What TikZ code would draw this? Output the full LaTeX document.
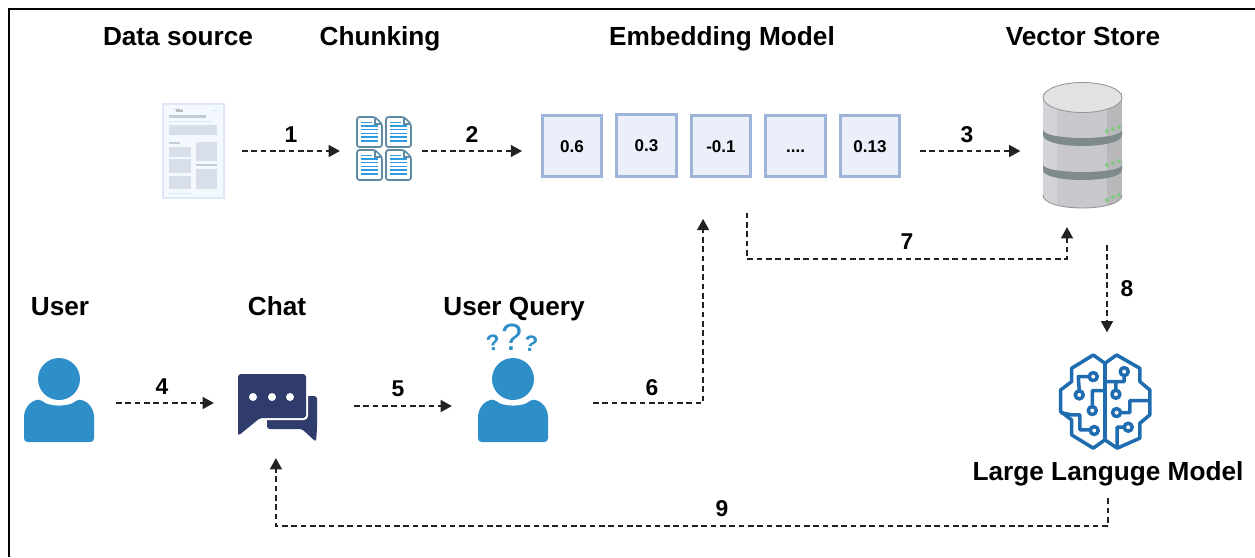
\documentclass[tikz,border=0pt]{standalone}
\usepackage{fontspec}
\setmainfont{Liberation Sans}
\usetikzlibrary{arrows.meta}
\definecolor{flowc}{HTML}{222222}
\definecolor{vecfill}{HTML}{EBEFF9}
\definecolor{vecline}{HTML}{9DB4D8}
\definecolor{personc}{HTML}{2E8FC8}
\definecolor{chatc}{HTML}{303C6C}
\definecolor{brainc}{HTML}{1F6DB0}
\definecolor{pagefill}{HTML}{F3F8FE}
\definecolor{pageline}{HTML}{DCE8F8}
\definecolor{pageblock}{HTML}{D9DFEA}
\definecolor{pagebar}{HTML}{C3CCD9}
\definecolor{sheetline}{HTML}{5F8AA6}
\definecolor{sheettext}{HTML}{2F9BE0}
\definecolor{drumc}{HTML}{C8C8CC}
\definecolor{drumlight}{HTML}{D3D3D7}
\definecolor{drumdark}{HTML}{B8B8BA}
\definecolor{drumband}{HTML}{7F8A8C}
\definecolor{drumtop}{HTML}{E2E2E2}
\definecolor{ledc}{HTML}{84C884}
\tikzset{
	head/.style={font=\fontsize{7.45}{9}\selectfont\bfseries,text height=5.6pt,text depth=.8pt,inner sep=0pt,outer sep=0pt},
	stepnum/.style={font=\fontsize{6.5}{8}\selectfont\bfseries,inner sep=0pt},
	askmark/.style={text=personc,inner sep=0pt,font=\fontsize{6.4}{8}\selectfont\bfseries},
	vecbox/.style={draw=vecline,fill=vecfill,line width=.85pt,minimum width=17pt,minimum height=17.5pt,inner sep=0pt,outer sep=0pt,
		font=\fontsize{4.85}{6}\selectfont\bfseries,text height=3.5pt,text depth=0pt},
	iconbox/.style 2 args={minimum width=#1*.2845pt,minimum height=#2*.2845pt,inner sep=0pt,outer sep=0pt},
	flow/.style={draw=flowc,line width=.65pt,dash pattern=on 1.6pt off 1.05pt,-{Triangle[length=3.2pt,width=3.3pt,flowc]}},
	gap/.style 2 args={shorten <=#1*.2845pt,shorten >=#2*.2845pt},
	personicon/.pic={
		\fill[personc,rounded corners=1pt] (-35,63)--(-35,42) .. controls (-35,30) and (-30,23) .. (-19,20) .. controls (-10,28) and (10,28) .. (19,20) .. controls (30,23) and (35,30) .. (35,42)--(35,63)--cycle;
		\fill[personc] (0,0) circle (21);
	},
	sheeticon/.pic={
		\draw[sheetline,line width=.5pt,fill=white,rounded corners=.7pt] (0,0)--(18,0)--(25,7)--(25,30)--(0,30)--cycle;
		\draw[sheetline,line width=.3pt] (18,0)--(18,7)--(25,7);
		\draw[sheettext,line width=.35pt] (3.5,5.5)--(15,5.5);
		\foreach \ly in {9,12.5,16.5,20,24}{\draw[sheettext,line width=.35pt] (3.5,\ly)--(21,\ly);}
	},
	drumpart/.pic={
		\begin{scope}
			\clip (1043,\yt) -- (1043,\yb) .. controls (1043,{\yb+1.33*\ry}) and (1122,{\yb+1.33*\ry}) .. (1122,\yb) -- (1122,\yt) -- cycle;
			\fill[drumc] (1043,\yt) rectangle (1122,{\yb+\ry});
			\fill[drumlight] (1043,\yt) rectangle (1057,{\yb+\ry});
			\fill[drumdark] (1107,\yt) rectangle (1122,{\yb+\ry});
		\end{scope}
	}
}
\begin{document}
\begin{tikzpicture}[x=0.01cm,y=-0.01cm]
	\useasboundingbox (0,0) rectangle (1255,557);
	\draw[line width=.6pt] (1255,9)--(9,9)--(9,557);
	% titles
	\node[head] (tsource) at (178,37) {Data source};
	\node[head] (tchunk) at (380,37) {Chunking};
	\node[head] (tembed) at (722,37) {Embedding Model};
	\node[head] (tstore) at (1083,37) {Vector Store};
	\node[head] (tuser) at (60,307) {User};
	\node[head] (tchat) at (277,307) {Chat};
	\node[head] (tquery) at (514,307) {User Query};
	\node[head] (tllm) at (1108,472) {Large Languge Model};
	% icon places
	\node[iconbox={61}{94}] (srcdoc) at (193.5,151) {};
	\node[iconbox={54}{62}] (chunks) at (384,151) {};
	\node[iconbox={79}{114}] (store) at (1083,151) {};
	\node[iconbox={70}{85}] (usericon) at (59,403) {};
	\node[iconbox={79}{68}] (chat) at (277.5,406) {};
	\node[iconbox={70}{85}] (queryicon) at (513,403) {};
	\node[iconbox={97}{97}] (llm) at (1107,401) {};
	% embedding values
	\node[vecbox] (emb1) at (572,146) {0.6};
	\node[vecbox] (emb2) at (646.5,145.5) {0.3};
	\node[vecbox] (emb3) at (721,146) {-0.1};
	\node[vecbox] (emb4) at (795.5,146) {....};
	\node[vecbox] (emb5) at (870,146) {0.13};
	% source page
	\fill[pagefill,draw=pageline,line width=.3pt] (163,104) rectangle (224,198);
	\node[font=\fontsize{1.2}{1.4}\selectfont,text=black!70,inner sep=0pt] (pagetitle) at (179,110.5) {Title};
	\fill[pageline] (212,109.5) rectangle (217,110.5);
	\fill[pagebar] (169,115) rectangle (206,118);
	\fill[pageline] (169,120.5) rectangle (212,121.5);
	\fill[pagebar] (169,142) rectangle (180,144);
	\fill[pagebar] (196,164) rectangle (217,166);
	\fill[pageline] (169,192.5) rectangle (191,193.5);
	\foreach \xa/\ya/\xb/\yb in {169/125/217/135,169/147/191/157,169/159/191/173,169/176/191/189,196/142/217/161,196/169/217/189}{
		\fill[pageblock] (\xa,\ya) rectangle (\xb,\yb);
	}
	% chunk sheets
	\foreach \cx/\cy in {357/117,386/117,357/150,386/150}{
		\pic at (\cx,\cy) {sheeticon};
	}
	% drum, from the bottom up
	\def\yt{160}\def\yb{195}\def\ry{13}
	\pic {drumpart};
	\fill[drumband] (1043,160) -- (1043,170) .. controls (1043,183.3) and (1122,183.3) .. (1122,170) -- (1122,160) -- cycle;
	\def\yt{125}\def\yb{164}\def\ry{8}
	\pic {drumpart};
	\fill[drumband] (1043,125) -- (1043,135) .. controls (1043,149.6) and (1122,149.6) .. (1122,135) -- (1122,125) -- cycle;
	\def\yt{93}\def\yb{129}\def\ry{9}
	\pic {drumpart};
	\draw[drumc!75!black,line width=.25pt] (1043,195) .. controls (1043,212.3) and (1122,212.3) .. (1122,195);
	\fill[drumtop,draw=drumc!75!black,line width=.25pt] (1082.5,97.5) ellipse [x radius=39.5,y radius=15];
	\foreach \lx/\ly in {1107/131,1113/129,1119/127,1107/165,1113/163,1119/161,1107/200,1113/197,1119/195}{
		\fill[ledc] (\lx,\ly) circle (2);
	}
	% people and chat
	\pic at (59,379) {personicon};
	\pic at (513,379) {personicon};
	\node[askmark,font=\fontsize{10.8}{12}\selectfont] (qmid) at (512,337) {?};
	\node[askmark,rotate=8] (qleft) at (493,343) {?};
	\node[askmark,rotate=-8] (qright) at (531,344) {?};
	\fill[chatc,rounded corners=.8pt] (267,396)--(317,396)--(317,429)--(316,442)--(302,429)--(267,429)--cycle;
	\fill[chatc,preaction={draw=white,line width=1.2pt}] [rounded corners=.8pt] (238,374)--(306,374)--(306,418)--(260,418)--(238,436)--(238,418)--cycle;
	\foreach \dx in {253,272,290}{\fill[white] (\dx,397) circle (4);}
	% brain
	\begin{scope}[shift={(1040,340)},x=0.00333cm,y=-0.00333cm,brainc,line width=1pt,line join=round]
		\draw (195,70)--(160,45)--(95,85)--(95,125)--(62,150)--(62,215)--(95,240)--(95,285)--(160,325)--(195,300)--(232,325)--(300,295)--(300,250)--(330,225)--(330,150)--(300,125)--(300,85)--(230,45)--cycle;
		\draw (195,70)--(195,300);
		\draw (148,110)--(115,110)--(118,153) (118,165) circle (12) (160,110) circle (12);
		\draw (157,200)--(157,152)--(195,152) (157,212) circle (12);
		\draw (62,218)--(95,225)--(120,225)--(120,270)--(151,270) (163,272) circle (12);
		\draw (253,107)--(253,125)--(195,125) (253,95) circle (12);
		\draw (228,151)--(228,125) (228,163) circle (12);
		\draw (242,218)--(270,218)--(270,182)--(330,182) (230,218) circle (12);
		\draw (253,262)--(232,262)--(232,325) (265,262) circle (12);
	\end{scope}
	% connectors
	\draw[flow,gap={18}{17}] (srcdoc.east) -- (srcdoc.east -| chunks.west);
	\node[stepnum] (n1) at (291,135) {1};
	\draw[flow,gap={11}{20}] (chunks.east) -- (chunks.east -| emb1.west);
	\node[stepnum] (n2) at (472,135) {2};
	\draw[flow,gap={20}{23}] (store.west -| emb5.east) -- (store.west);
	\node[stepnum] (n3) at (967,135) {3};
	\draw[flow,gap={22}{24}] (usericon.east) -- (usericon.east -| chat.west);
	\node[stepnum] (n4) at (162,387) {4};
	\draw[flow,gap={37}{26}] (chat.east) -- (chat.east -| queryicon.west);
	\node[stepnum] (n5) at (398,389) {5};
	\draw[flow,gap={45}{42}] (queryicon.east) -| ([xshift=-5.1pt]emb3.south);
	\node[stepnum] (n6) at (652,388) {6};
	\coordinate (bend7) at (907,259);
	\draw[flow,gap={36}{19}] ([xshift=7.4pt]emb3.south) |- (bend7) -| ([xshift=-4.55pt]store.south);
	\node[stepnum] (n7) at (907,242) {7};
	\draw[flow,gap={37}{20}] (llm.north |- store.south) -- (llm.north);
	\node[stepnum] (n8) at (1127,289) {8};
	\coordinate (bend9) at (722,526);
	\draw[flow,gap={15}{18}] (tllm.south) |- (bend9) -| ([xshift=-.45pt]chat.south);
	\node[stepnum] (n9) at (722,509) {9};
\end{tikzpicture}
\end{document}
